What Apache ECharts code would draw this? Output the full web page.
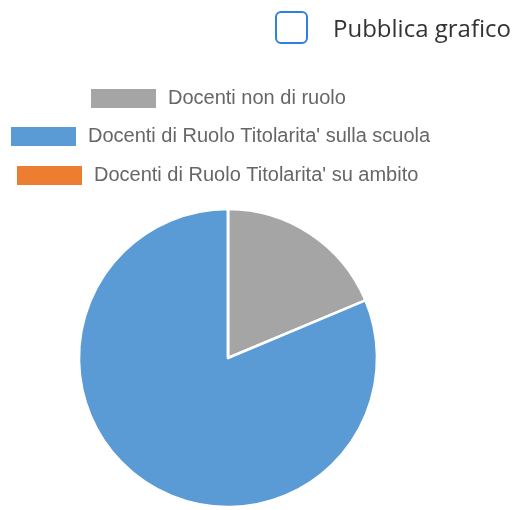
<!DOCTYPE html>
<html><head><meta charset="utf-8">
<script src="https://cdn.jsdelivr.net/npm/echarts@6/dist/echarts.min.js"></script>
<style>html,body{margin:0;padding:0;background:#fff}#c{width:518px;height:510px}</style>
</head><body><div id="c"></div>
<script>
const categories = ["Docenti non di ruolo", "Docenti di Ruolo Titolarita' sulla scuola", "Docenti di Ruolo Titolarita' su ambito"];
const values = [17, 74, 0];
const colors = ['#a5a5a5', '#5b9bd5', '#ed7d31'];
const checkboxLabel = 'Pubblica grafico';

const chart = echarts.init(document.getElementById('c'));
const legendLefts = [89, 9, 15];
const legendTops = [87, 125, 164];
chart.setOption({
  animation: false,
  color: colors,
  legend: categories.map((c, i) => ({
    data: [c], left: legendLefts[i], top: legendTops[i], padding: 0,
    icon: 'rect', itemWidth: 67, itemHeight: 21, selectedMode: false,
    textStyle: { fontFamily: 'Liberation Sans', fontSize: 20, color: '#666', padding: [0, 0, 0, 6] }
  })),
  graphic: [
    { type: 'rect', shape: { x: 276, y: 12, width: 31, height: 31, r: 5 },
      style: { fill: '#fff', stroke: '#2f80e0', lineWidth: 2 } },
    { type: 'text', x: 333, y: 30,
      style: { text: checkboxLabel, font: '24px "Open Sans"', fill: '#333', textVerticalAlign: 'middle' } }
  ],
  series: [{
    type: 'pie', center: [228, 358], radius: 149, startAngle: 90, clockwise: true,
    label: { show: false }, labelLine: { show: false },
    itemStyle: { borderColor: '#fff', borderWidth: 2.5 },
    emphasis: { disabled: true },
    data: categories.map((c, i) => ({ name: c, value: values[i] }))
  }]
});
</script></body></html>
